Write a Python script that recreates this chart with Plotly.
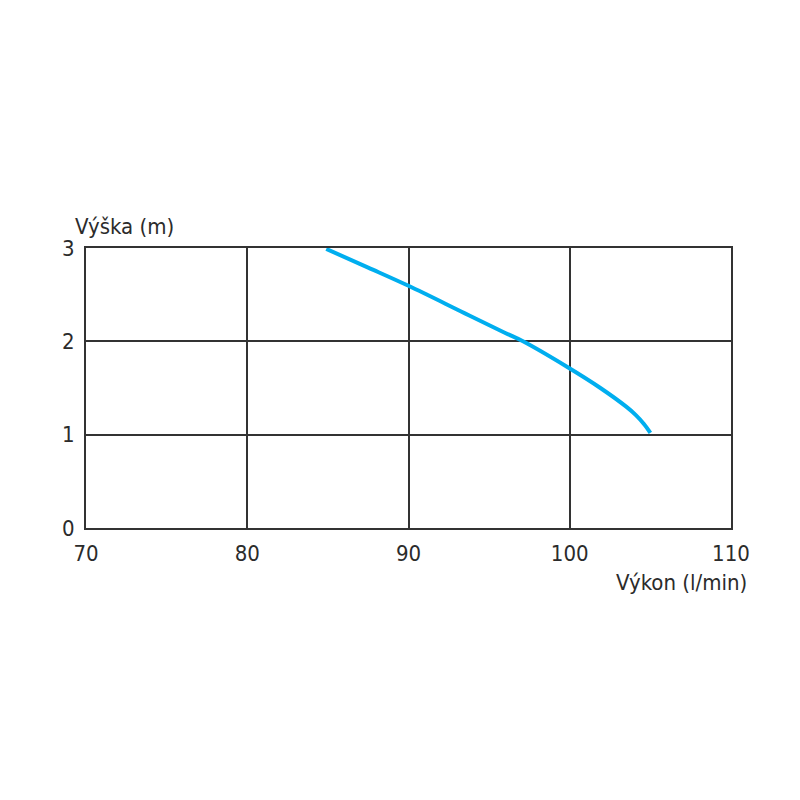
import plotly.graph_objects as go

flow = [84.9, 87.5, 90.0, 93.5, 96.0, 97.1, 99.8, 101.9, 103.5, 104.1, 104.6, 105.0]
head = [2.99, 2.79, 2.595, 2.30, 2.09, 2.00, 1.73, 1.50, 1.30, 1.21, 1.115, 1.02]
x_ticks = [70, 80, 90, 100, 110]
y_ticks = [0, 1, 2, 3]

font_family = "DejaVu Sans Condensed, Liberation Sans Narrow, Arial Narrow, sans-serif"
txt = "#2b2b2b"
grid = "#333333"

fig = go.Figure()
fig.add_trace(go.Scatter(x=flow, y=head, mode="lines",
                         line=dict(color="#00AEEF", width=4, shape="spline", smoothing=1.0),
                         showlegend=False, hoverinfo="skip"))

fig.update_layout(
    width=800, height=800,
    margin=dict(l=78, r=77, t=240, b=280),
    paper_bgcolor="white", plot_bgcolor="white",
    font=dict(family=font_family, size=22, color=txt),
    xaxis=dict(range=[70, 110], tickvals=x_ticks, ticks="", showgrid=True,
               gridcolor=grid, gridwidth=1.5, showline=True, linecolor=grid,
               linewidth=2, mirror=True, zeroline=False, ticklabelstandoff=5,
               tickfont=dict(size=22, color=txt, family=font_family)),
    yaxis=dict(range=[0, 3], tickvals=y_ticks, ticks="", showgrid=True,
               gridcolor=grid, gridwidth=1.5, showline=True, linecolor=grid,
               linewidth=2, mirror=True, zeroline=False, ticklabelstandoff=5,
               tickfont=dict(size=22, color=txt, family=font_family)),
    annotations=[
        dict(text="Výška (m)", xref="paper", yref="paper", x=0, y=1,
             xanchor="center", yanchor="bottom", xshift=38, yshift=7,
             showarrow=False, font=dict(size=22, color=txt, family=font_family)),
        dict(text="Výkon (l/min)", xref="paper", yref="paper", x=1, y=0,
             xanchor="right", yanchor="top", xshift=18, yshift=-40,
             showarrow=False, font=dict(size=22, color=txt, family=font_family)),
    ],
)

fig.write_html("out.html")
